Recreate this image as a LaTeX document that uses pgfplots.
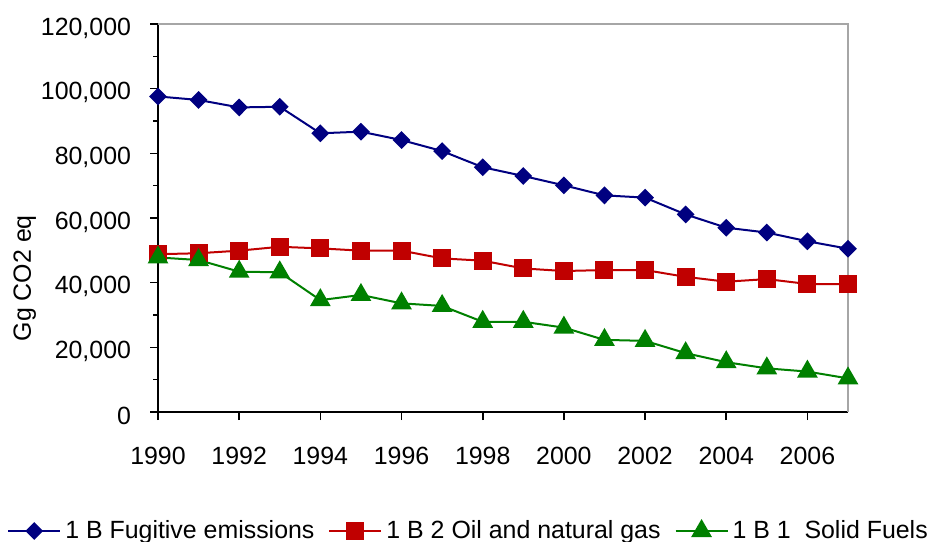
\documentclass[border=0pt]{standalone}
\usepackage{fontspec}
\setmainfont{Liberation Sans}
\usepackage{pgfplots}
\pgfplotsset{compat=1.18}
\definecolor{cblue}{RGB}{0,0,128}
\definecolor{cred}{RGB}{192,0,0}
\definecolor{cgreen}{RGB}{0,128,0}
\begin{document}
\begin{tikzpicture}
\useasboundingbox (0,0) rectangle (466.5bp,271bp);
\begin{axis}[
  at={(79bp,65bp)}, anchor=south west,
  scale only axis, width=345bp, height=194bp,
  xmin=1990, xmax=2007, ymin=0, ymax=120000,
  clip=false,
  axis x line*=bottom, axis y line*=left,
  axis line style={black, line width=0.8bp, -},
  xtick={1990,1992,1994,1996,1998,2000,2002,2004,2006},
  xticklabels={1990,1992,1994,1996,1998,2000,2002,2004,2006},
  ytick={0,20000,40000,60000,80000,100000,120000},
  yticklabels={0,{20,000},{40,000},{60,000},{80,000},{100,000},{120,000}},
  minor ytick={10000,30000,50000,70000,90000,110000},
  tick align=outside,
  major tick length=4bp, minor tick length=2.5bp,
  tick style={black, line width=0.8bp},
  scaled y ticks=false,
  tick label style={font=\fontsize{12.5}{15}\selectfont},
  x tick label style={yshift=-10bp},
  y tick label style={xshift=-6bp, yshift=-2bp},
  ylabel={Gg CO2 eq},
  every axis y label/.style={at={(rel axis cs:-0.193,0.345)}, rotate=90, anchor=center, font=\fontsize{12.5}{15}\selectfont},
  legend columns=-1,
  legend style={at={(rel axis cs:0.4515,-0.3067)}, anchor=center, draw=none, fill=none,
    font=\fontsize{12.5}{15}\selectfont, inner xsep=0pt,
    /tikz/every even column/.append style={column sep=5bp}},
  legend image code/.code={\draw[mark repeat=2,mark phase=2] plot coordinates {(0bp,0bp)(13bp,0bp)(26bp,0bp)};},
]
\draw[gray!70, line width=0.8bp] (rel axis cs:0,1) -- (rel axis cs:1,1) -- (rel axis cs:1,0);
\addplot[cblue, line width=1bp, mark=diamond*, mark size=3.75bp, mark options={solid, xscale=1.33}] coordinates {
(1990,97600)(1991,96500)(1992,94200)(1993,94400)(1994,86200)(1995,86700)(1996,84100)(1997,80700)(1998,75700)(1999,73000)(2000,70100)(2001,67000)(2002,66300)(2003,61100)(2004,57000)(2005,55500)(2006,52800)(2007,50500)};
\addlegendentry{1 B Fugitive emissions}
\addplot[cred, line width=1bp, mark=square*, mark size=4bp, mark options={solid}] coordinates {
(1990,48800)(1991,49100)(1992,49900)(1993,51100)(1994,50600)(1995,49900)(1996,49900)(1997,47500)(1998,46800)(1999,44400)(2000,43600)(2001,43900)(2002,43900)(2003,41800)(2004,40300)(2005,41100)(2006,39600)(2007,39500)};
\addlegendentry{1 B 2 Oil and natural gas}
\addplot[cgreen, line width=1bp, mark=triangle*, mark size=5bp, mark options={solid}] coordinates {
(1990,47800)(1991,47000)(1992,43400)(1993,43200)(1994,34600)(1995,36200)(1996,33600)(1997,32800)(1998,27900)(1999,27900)(2000,26100)(2001,22300)(2002,22000)(2003,18200)(2004,15400)(2005,13500)(2006,12500)(2007,10400)};
\addlegendentry{1 B 1\ \ Solid Fuels}
\end{axis}
\end{tikzpicture}
\end{document}
